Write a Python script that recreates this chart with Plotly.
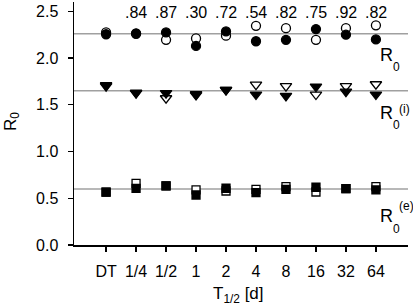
import plotly.graph_objects as go

categories = ["DT", "1/4", "1/2", "1", "2", "4", "8", "16", "32", "64"]
r0_filled = [2.255, 2.265, 2.275, 2.13, 2.285, 2.18, 2.195, 2.31, 2.25, 2.20]
r0_open = [2.275, 2.26, 2.195, 2.21, 2.24, 2.345, 2.32, 2.195, 2.32, 2.35]
ri_filled = [1.70, 1.625, 1.625, 1.605, 1.66, 1.61, 1.595, 1.695, 1.64, 1.61]
ri_open = [1.71, 1.63, 1.57, 1.615, 1.66, 1.715, 1.70, 1.61, 1.70, 1.72]
re_filled = [0.565, 0.605, 0.632, 0.535, 0.607, 0.56, 0.596, 0.618, 0.603, 0.589]
re_open = [0.565, 0.66, 0.632, 0.589, 0.578, 0.596, 0.624, 0.567, 0.603, 0.624]
ref_lines = [2.26, 1.65, 0.60]
corr_labels = ["", ".84", ".87", ".30", ".72", ".54", ".82", ".75", ".92", ".82"]
y_ticks = [0.0, 0.5, 1.0, 1.5, 2.0, 2.5]

FONT = "Liberation Sans, Arial, sans-serif"
xs = list(range(len(categories)))

fig = go.Figure()

def add(vals, symbol, size, filled):
    fig.add_trace(go.Scatter(
        x=xs, y=vals, mode="markers",
        marker=dict(symbol=symbol, size=size,
                    color="black" if filled else "white",
                    line=dict(color="black", width=1.3)),
        showlegend=False, cliponaxis=False, hoverinfo="skip"))

add(r0_open, "circle", 9, False)
add(ri_open, "triangle-down", 10, False)
add(re_open, "square", 8, False)
add(r0_filled, "circle", 9, True)
add(ri_filled, "triangle-down", 10, True)
add(re_filled, "square", 8, True)

for v in ref_lines:
    fig.add_shape(type="line", xref="paper", yref="y", x0=0, x1=1, y0=v, y1=v,
                  line=dict(color="#a0a0a0", width=1.5), layer="below")

def ann(x, y, text, size, xref="x", yref="y", xanchor="center", angle=0):
    fig.add_annotation(x=x, y=y, text=text, showarrow=False, xref=xref, yref=yref,
                       xanchor=xanchor, yanchor="middle", textangle=angle,
                       font=dict(family=FONT, size=size, color="black"))

for i, t in enumerate(corr_labels):
    if t:
        ann(i, 2.484, t, 16)

# series labels: R, subscript 0, optional superscript
ann(9.07, 2.03, "R", 18, xanchor="left")
ann(9.50, 1.90, "0", 12, xanchor="left")
ann(9.07, 1.41, "R", 18, xanchor="left")
ann(9.50, 1.285, "0", 12, xanchor="left")
ann(9.70, 1.46, "(i)", 12, xanchor="left")
ann(9.07, 0.31, "R", 18, xanchor="left")
ann(9.50, 0.175, "0", 12, xanchor="left")
ann(9.70, 0.42, "(e)", 12, xanchor="left")

# axis titles
ann(0.494, -0.205, "T<sub>1/2</sub> [d]", 17, xref="paper", yref="paper")
ann(-0.186, 0.51, "R<sub>0</sub>", 17, xref="paper", yref="paper", angle=-90)

fig.update_layout(
    template="none",
    width=413, height=305,
    margin=dict(l=74, r=5, t=2, b=60, autoexpand=False),
    paper_bgcolor="white", plot_bgcolor="white",
    font=dict(family=FONT, size=16, color="black"),
    showlegend=False, hovermode=False,
    xaxis=dict(range=[-1.07, 10.07], tickmode="array", tickvals=xs, ticktext=categories,
               automargin=False, ticklabelstandoff=6,
               showline=True, linecolor="black", linewidth=1.5, ticks="outside",
               ticklen=5, tickwidth=1.3, tickcolor="black", showgrid=False, zeroline=False),
    yaxis=dict(range=[0, 2.6], tickmode="array", tickvals=y_ticks,
               ticktext=[f"{v:.1f}" for v in y_ticks], ticklabelstandoff=6,
               automargin=False,
               showline=True, linecolor="black", linewidth=1.5, ticks="outside",
               ticklen=5, tickwidth=1.3, tickcolor="black", showgrid=False, zeroline=False),
)

fig.write_html("out.html", config={"displayModeBar": False, "staticPlot": True},
               post_script="document.body.style.margin='0';document.body.style.overflow='hidden';")
